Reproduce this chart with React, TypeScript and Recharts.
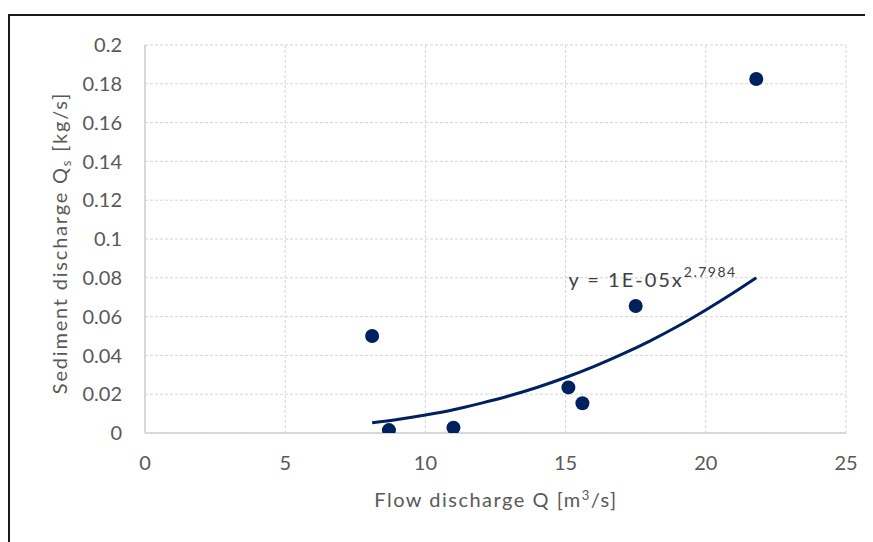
import { CartesianGrid, ComposedChart, Line, ReferenceDot, Scatter, XAxis, YAxis } from 'recharts'

// measured points: flow discharge Q [m3/s] vs sediment discharge Qs [kg/s]
const flowQ = [8.1, 8.7, 11.0, 15.1, 15.6, 17.5, 21.8]
const sedimentQs = [0.05, 0.0015, 0.0027, 0.0235, 0.0153, 0.0655, 0.1825]

// power trendline
const trendX = [8.1, 9, 10, 11, 12, 13, 14, 15, 16, 17, 18, 19, 20, 21, 21.8]
const trendY = [0.0053, 0.007, 0.0093, 0.012, 0.0154, 0.0192, 0.0236, 0.0286, 0.0342, 0.0405, 0.0474, 0.055, 0.0634, 0.0724, 0.08]

const xTicks = [0, 5, 10, 15, 20, 25]
const yTicks = [0, 0.02, 0.04, 0.06, 0.08, 0.1, 0.12, 0.14, 0.16, 0.18, 0.2]

const FONT = 'Lato, "Open Sans", sans-serif'
const TEXT = '#595959'
const NAVY = '#002060'

const points = flowQ.map((x, i) => ({x, y: sedimentQs[i]}))
const trend = trendX.map((x, i) => ({x, y: trendY[i]}))

function YTitle() {
  return (
    <text transform="translate(59, 235) rotate(-90)" textAnchor="middle" fill={TEXT}
      fontFamily={FONT} fontSize={20} letterSpacing={1.8}>
      Sediment discharge Q<tspan dy={4} fontSize={13}>s</tspan><tspan dy={-4}> [kg/s]</tspan>
    </text>
  )
}

function XTitle() {
  return (
    <text x={488} y={499} textAnchor="middle" fill={TEXT} fontFamily={FONT} fontSize={20} letterSpacing={1.5}>
      Flow discharge Q [m<tspan dy={-7} fontSize={13}>3</tspan><tspan dy={7}>/s]</tspan>
    </text>
  )
}

function Equation(props: any) {
  const {x, y} = props.viewBox ?? {}
  return (
    <text x={x} y={y} fill="#404040" fontFamily={FONT} fontSize={20} letterSpacing={2}>
      y = 1E-05x<tspan dy={-10} fontSize={14} letterSpacing={1.5}>2.7984</tspan>
    </text>
  )
}

export default function App() {
  return (
    <div style={{position: 'relative', width: 865, height: 534, background: '#fff'}}>
      <div style={{position: 'absolute', left: 0, top: 6, right: -10, bottom: -10,
        borderTop: '2px solid #1a1a1a', borderLeft: '2px solid #1a1a1a'}}/>
      <div style={{position: 'absolute', left: 0, top: 0}}>
        <ComposedChart width={865} height={534} margin={{top: 37, right: 27, bottom: 0, left: 0}}>
          <CartesianGrid stroke="#d4d4d4" strokeDasharray="3 2" />
          <XAxis type="number" dataKey="x" domain={[0, 25]} ticks={xTicks} height={109}
            axisLine={{stroke: '#cfcfcf', strokeWidth: 1.5}} tickLine={false} tickSize={0} tickMargin={23}
            tick={{fill: TEXT, fontFamily: FONT, fontSize: 20}} allowDataOverflow label={<XTitle />} />
          <YAxis type="number" dataKey="y" domain={[0, 0.2]} ticks={yTicks} width={137}
            axisLine={{stroke: '#cfcfcf', strokeWidth: 1.5}} tickLine={false} tickSize={0} tickMargin={23}
            tick={{fill: TEXT, fontFamily: FONT, fontSize: 20}} tickFormatter={(v) => String(v)}
            allowDataOverflow label={<YTitle />} />
          <Line data={trend} dataKey="y" type="monotone" stroke={NAVY} strokeWidth={3}
            dot={false} activeDot={false} isAnimationActive={false} />
          <Scatter data={points} dataKey="y" fill={NAVY} isAnimationActive={false}
            shape={(p: any) => <circle cx={p.cx} cy={p.cy} r={7} fill={NAVY} />} />
          <ReferenceDot x={15.1} y={0.0753} r={0} stroke="none" fill="none" label={<Equation />} />
        </ComposedChart>
      </div>
    </div>
  )
}
